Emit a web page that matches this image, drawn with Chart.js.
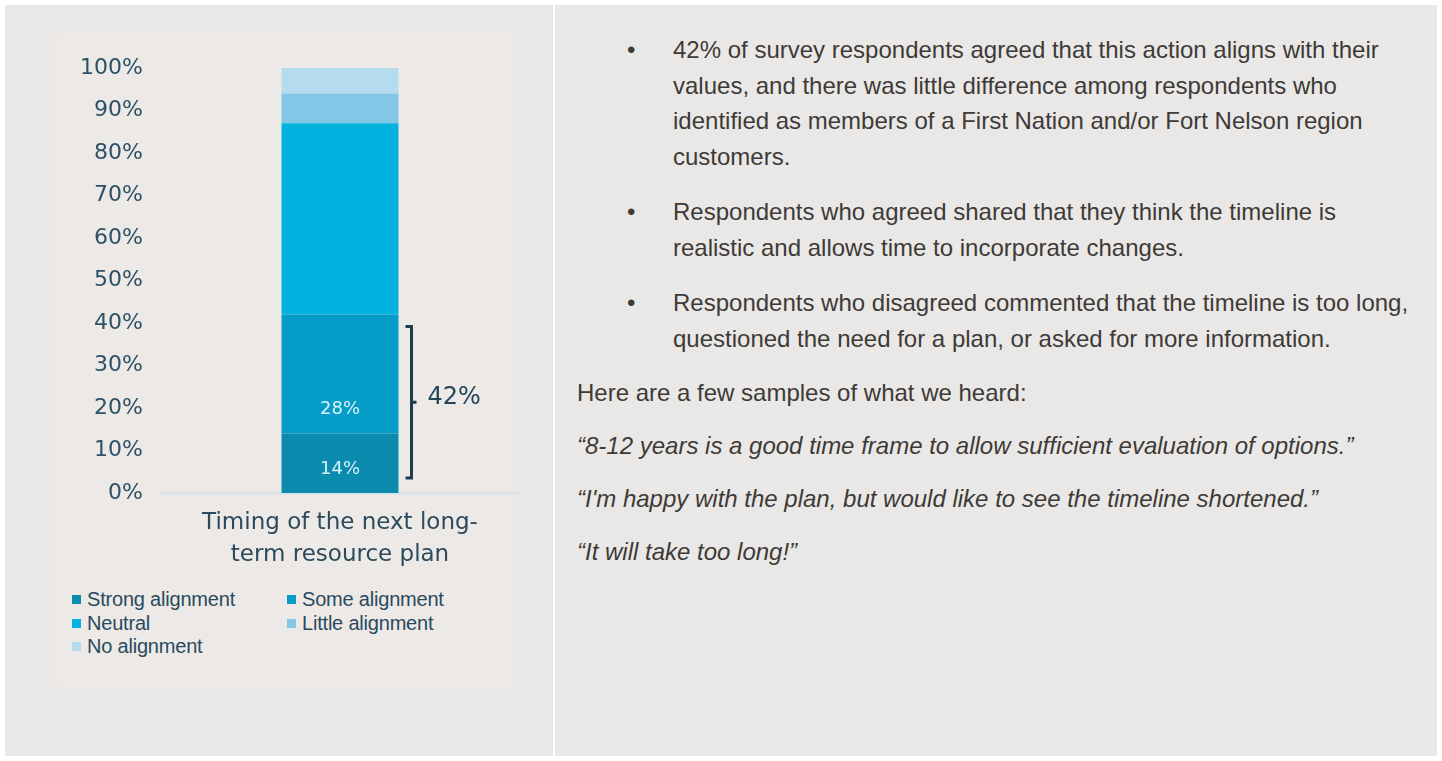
<!DOCTYPE html>
<html>
<head>
<meta charset="utf-8">
<script src="https://cdn.jsdelivr.net/npm/chart.js@4"></script>
<style>
  html, body { margin: 0; padding: 0; background: #ffffff; }
  #page { position: relative; width: 1442px; height: 761px; overflow: hidden; background: #ffffff; }
  .cell { position: absolute; top: 5px; height: 751px; background: #e9e8e6; }
  #left { left: 5px; width: 548px; }
  #right { left: 555px; width: 882px; }
  #imgbg { position: absolute; left: 57px; top: 34px; width: 456px; height: 652px; background: #ece9e7; }
  #chartbox { position: absolute; left: 0; top: 0; width: 553px; height: 580px; }
  #legend { position: absolute; left: 72px; top: 588px; width: 420px;
    display: grid; grid-template-columns: 215px 200px; grid-auto-rows: 23.5px;
    font-family: "Liberation Sans", Arial, sans-serif; font-size: 20px; color: #2a4a5e; }
  #legend .item { display: flex; align-items: center; white-space: nowrap; letter-spacing: -0.2px; }
  #legend .sw { width: 9px; height: 9px; margin-right: 6px; flex: none; }
  .txt { position: absolute; font-family: "Liberation Sans", Arial, sans-serif; font-size: 24px;
    line-height: 35.5px; color: #3e3a37; white-space: nowrap; }
  .bul { left: 673px; }
  .bul::before { content: "\2022"; position: absolute; left: -46px; top: 0; }
  .plain { left: 577px; }
  .quote { left: 577px; font-style: italic; }
</style>
</head>
<body>
<div id="page">
  <div class="cell" id="left"></div>
  <div class="cell" id="right"></div>
  <div id="imgbg"></div>
  <div id="chartbox"><canvas id="chart"></canvas></div>
  <div id="legend"></div>

  <div class="txt bul" style="top:32px">42% of survey respondents agreed that this action aligns with their<br>values, and there was little difference among respondents who<br>identified as members of a First Nation and/or Fort Nelson region<br>customers.</div>
  <div class="txt bul" style="top:194px">Respondents who agreed shared that they think the timeline is<br>realistic and allows time to incorporate changes.</div>
  <div class="txt bul" style="top:285px">Respondents who disagreed commented that the timeline is too long,<br>questioned the need for a plan, or asked for more information.</div>
  <div class="txt plain" style="top:375px">Here are a few samples of what we heard:</div>
  <div class="txt quote" style="top:428px">“8-12 years is a good time frame to allow sufficient evaluation of options.”</div>
  <div class="txt quote" style="top:481px">“I'm happy with the plan, but would like to see the timeline shortened.”</div>
  <div class="txt quote" style="top:534px">“It will take too long!”</div>
</div>
<script>
// data
const categoryLabel = ['Timing of the next long-', 'term resource plan'];
const seriesNames = ['Strong alignment', 'Some alignment', 'Neutral', 'Little alignment', 'No alignment'];
const seriesValues = [14, 28, 45, 7, 6];
const seriesColors = ['#0b8bae', '#069cc8', '#02b3df', '#82c7e5', '#b4dbee'];
const barLabels = ['14%', '28%', '', '', ''];
const yMin = 0;
const yMax = 100;
const yStep = 10;
const bracketRange = [0, 42];
const bracketLabel = '42%';

const legendEl = document.getElementById('legend');
seriesNames.forEach((name, i) => {
  const item = document.createElement('div');
  item.className = 'item';
  const sw = document.createElement('span');
  sw.className = 'sw';
  sw.style.background = seriesColors[i];
  item.appendChild(sw);
  item.appendChild(document.createTextNode(name));
  legendEl.appendChild(item);
});

const barLabelPlugin = {
  id: 'barLabels',
  afterDatasetsDraw(chart) {
    const { ctx } = chart;
    const y = chart.scales.y;
    let base = 0;
    chart.data.datasets.forEach((ds, i) => {
      const value = ds.data[0];
      const text = barLabels[i];
      if (text) {
        const bar = chart.getDatasetMeta(i).data[0];
        ctx.save();
        ctx.font = '18px "DejaVu Sans"';
        ctx.fillStyle = '#d9f1fa';
        ctx.textAlign = 'center';
        ctx.textBaseline = 'middle';
        ctx.fillText(text, bar.x, y.getPixelForValue(base) - 24);
        ctx.restore();
      }
      base += value;
    });
  },
};

const bracketPlugin = {
  id: 'bracket',
  afterDraw(chart) {
    const { ctx } = chart;
    const y = chart.scales.y;
    const bar = chart.getDatasetMeta(0).data[0];
    const x = bar.x + bar.width / 2 + 13;
    const top = y.getPixelForValue(bracketRange[1]) + 12;
    const bottom = y.getPixelForValue(bracketRange[0]) - 15;
    const mid = (top + bottom) / 2;
    ctx.save();
    ctx.strokeStyle = '#1c3c4f';
    ctx.lineWidth = 3;
    ctx.beginPath();
    ctx.moveTo(x - 6, top);
    ctx.lineTo(x, top);
    ctx.lineTo(x, bottom);
    ctx.lineTo(x - 6, bottom);
    ctx.moveTo(x, mid);
    ctx.lineTo(x + 5, mid);
    ctx.stroke();
    ctx.font = '24px "DejaVu Sans"';
    ctx.fillStyle = '#25465a';
    ctx.textAlign = 'left';
    ctx.textBaseline = 'middle';
    ctx.fillText(bracketLabel, x + 16, mid - 4);
    ctx.restore();
  },
};

const ctx = document.getElementById('chart').getContext('2d');
new Chart(ctx, {
  type: 'bar',
  data: {
    labels: [categoryLabel],
    datasets: seriesNames.map((name, i) => ({
      label: name,
      data: [seriesValues[i]],
      backgroundColor: seriesColors[i],
      borderWidth: 0,
      barPercentage: 0.325,
      categoryPercentage: 1,
    })),
  },
  options: {
    responsive: true,
    maintainAspectRatio: false,
    animation: false,
    layout: { padding: { top: 68, bottom: 7, left: 0, right: 33 } },
    plugins: {
      legend: { display: false },
      tooltip: { enabled: false },
    },
    scales: {
      x: {
        stacked: true,
        grid: { display: false, drawTicks: false },
        border: { display: true, color: '#dbe4ea', width: 3 },
        ticks: {
          padding: 14,
          maxRotation: 0,
          autoSkip: false,
          color: '#2c4a5c',
          font: { family: 'DejaVu Sans', size: 23, lineHeight: 1.39 },
        },
        afterFit(scale) { scale.height = 80; },
      },
      y: {
        stacked: true,
        min: yMin,
        max: yMax,
        grid: { display: false, drawTicks: false },
        border: { display: false },
        ticks: {
          stepSize: yStep,
          padding: 17,
          color: '#2d5166',
          font: { family: 'DejaVu Sans', size: 22 },
          callback: (value) => `${value}%`,
        },
        afterFit(scale) { scale.width = 160; },
      },
    },
  },
  plugins: [barLabelPlugin, bracketPlugin],
});
</script>
</body>
</html>
